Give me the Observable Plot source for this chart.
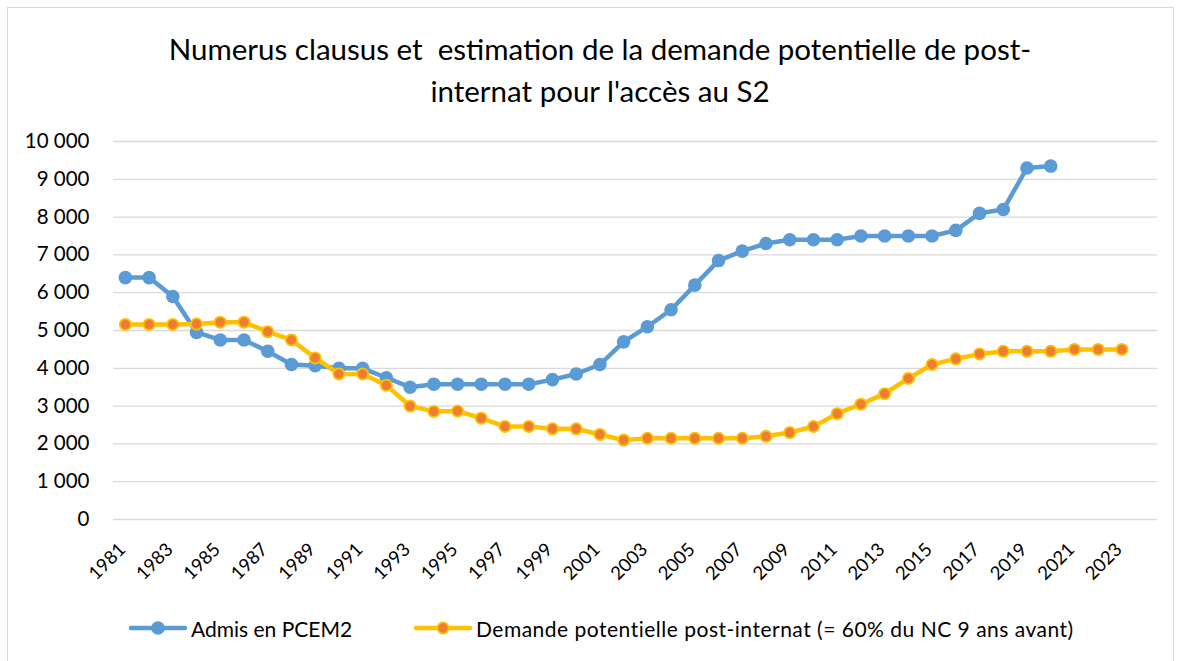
<!DOCTYPE html>
<html>
<head>
<meta charset="utf-8">
<script src="https://cdn.jsdelivr.net/npm/d3@7"></script>
<script src="https://cdn.jsdelivr.net/npm/@observablehq/plot@0.6"></script>
<style>
  html, body { margin: 0; padding: 0; background: #fff; }
  #chart { position: relative; width: 1182px; height: 661px; overflow: hidden; font-family: Lato, "Open Sans", sans-serif; color: #000; }
  #frame { position: absolute; left: 7px; top: 7px; width: 1167px; height: 670px; border: 1px solid #d9d9d9; box-sizing: border-box; }
  #title { position: absolute; left: 0; width: 1200px; top: 28px; text-align: center; font-size: 29.5px; line-height: 42px; }
  #plot { position: absolute; left: 0; top: 110px; }
  #legend { position: absolute; top: 614px; left: 0; width: 1182px; height: 28px; font-size: 21px; }
  .item { position: absolute; top: 0; display: flex; align-items: center; height: 28px; white-space: nowrap; }
  .item svg { margin-right: 3px; }
</style>
</head>
<body>
<div id="chart">
  <div id="frame"></div>
  <div id="title">Numerus clausus et&nbsp; estimation de la demande potentielle de post-<br>internat pour l'accès au S2</div>
  <div id="plot"></div>
  <div id="legend"></div>
</div>
<script>
// Categories (years on the x axis)
const years = [1981,1982,1983,1984,1985,1986,1987,1988,1989,1990,
               1991,1992,1993,1994,1995,1996,1997,1998,1999,2000,
               2001,2002,2003,2004,2005,2006,2007,2008,2009,2010,
               2011,2012,2013,2014,2015,2016,2017,2018,2019,2020,
               2021,2022,2023,2024];
// Series 1: Admis en PCEM2 (1981–2020)
const admisYears = [1981,1982,1983,1984,1985,1986,1987,1988,1989,1990,
                    1991,1992,1993,1994,1995,1996,1997,1998,1999,2000,
                    2001,2002,2003,2004,2005,2006,2007,2008,2009,2010,
                    2011,2012,2013,2014,2015,2016,2017,2018,2019,2020];
const admis = [6400,6400,5900,4950,4750,4750,4450,4100,4070,4000,
               4000,3750,3500,3580,3580,3580,3580,3580,3700,3850,
               4100,4700,5100,5550,6200,6850,7100,7300,7400,7400,
               7400,7500,7500,7500,7500,7650,8100,8200,9300,9350];
// Series 2: Demande potentielle post-internat (1981–2023)
const demandeYears = [1981,1982,1983,1984,1985,1986,1987,1988,1989,1990,
                      1991,1992,1993,1994,1995,1996,1997,1998,1999,2000,
                      2001,2002,2003,2004,2005,2006,2007,2008,2009,2010,
                      2011,2012,2013,2014,2015,2016,2017,2018,2019,2020,
                      2021,2022,2023];
const demande = [5160,5160,5160,5170,5220,5220,4970,4750,4275,3850,
                 3850,3550,3000,2860,2870,2680,2460,2460,2400,2400,
                 2250,2100,2150,2150,2150,2150,2150,2200,2300,2460,
                 2800,3050,3330,3730,4100,4250,4380,4450,4450,4450,
                 4500,4500,4500];
const yTicks = [0,1000,2000,3000,4000,5000,6000,7000,8000,9000,10000];
const xTickYears = [1981,1983,1985,1987,1989,1991,1993,1995,1997,1999,2001,2003,
                    2005,2007,2009,2011,2013,2015,2017,2019,2021,2023];
const seriesNames = ["Admis en PCEM2", "Demande potentielle post-internat (= 60% du NC 9 ans avant)"];
const blue = "#5b9bd5", gold = "#ffc000", orange = "#ed7d31";

const admisData = admisYears.map((y, i) => ({year: y, value: admis[i]}));
const demandeData = demandeYears.map((y, i) => ({year: y, value: demande[i]}));

const fr = d3.formatLocale({decimal: ",", thousands: " ", grouping: [3], currency: ["", " €"]});
const fmt = fr.format(",");

const chart = Plot.plot({
  width: 1182,
  height: 490,
  marginLeft: 113,
  marginRight: 25,
  marginTop: 31,
  marginBottom: 81,
  style: {fontFamily: "Lato, 'Open Sans', sans-serif", fontSize: "19px", color: "#000", background: "transparent"},
  x: {type: "point", domain: years, padding: 0.5, label: null},
  y: {domain: [0, 10000], label: null},
  marks: [
    Plot.ruleY(yTicks, {stroke: "#d9d9d9", strokeWidth: 1.3}),
    Plot.axisY({ticks: yTicks, tickFormat: fmt, tickSize: 0, tickPadding: 24, label: null, fontSize: 20.5}),
    Plot.axisX({ticks: xTickYears, tickFormat: d => String(d), tickSize: 0, tickPadding: 27, tickRotate: -45, label: null, fontSize: 18.5, dx: -3}),
    Plot.line(admisData, {x: "year", y: "value", stroke: blue, strokeWidth: 4.5, strokeLinejoin: "round", strokeLinecap: "round"}),
    Plot.dot(admisData, {x: "year", y: "value", r: 6.8, fill: blue, stroke: "none"}),
    Plot.line(demandeData, {x: "year", y: "value", stroke: gold, strokeWidth: 4.5, strokeLinejoin: "round", strokeLinecap: "round"}),
    Plot.dot(demandeData, {x: "year", y: "value", r: 5.6, fill: orange, stroke: gold, strokeWidth: 1.8})
  ]
});
document.getElementById("plot").appendChild(chart);

// Legend
const legend = document.getElementById("legend");
const items = [
  {name: seriesNames[0], left: 128, line: blue, fill: blue, stroke: "none", spacing: 0},
  {name: seriesNames[1], left: 413, line: gold, fill: orange, stroke: gold, spacing: 0.5}
];
for (const it of items) {
  const div = document.createElement("div");
  div.className = "item";
  div.style.left = it.left + "px";
  div.innerHTML = `<svg width="60" height="20"><line x1="3" x2="57" y1="10" y2="10" stroke="${it.line}" stroke-width="4.5" stroke-linecap="round"/><circle cx="30" cy="10" r="${it.stroke === "none" ? 6.8 : 5.6}" fill="${it.fill}" stroke="${it.stroke}" stroke-width="1.8"/></svg><span style="letter-spacing:${it.spacing}px">${it.name}</span>`;
  legend.appendChild(div);
}
</script>
</body>
</html>
